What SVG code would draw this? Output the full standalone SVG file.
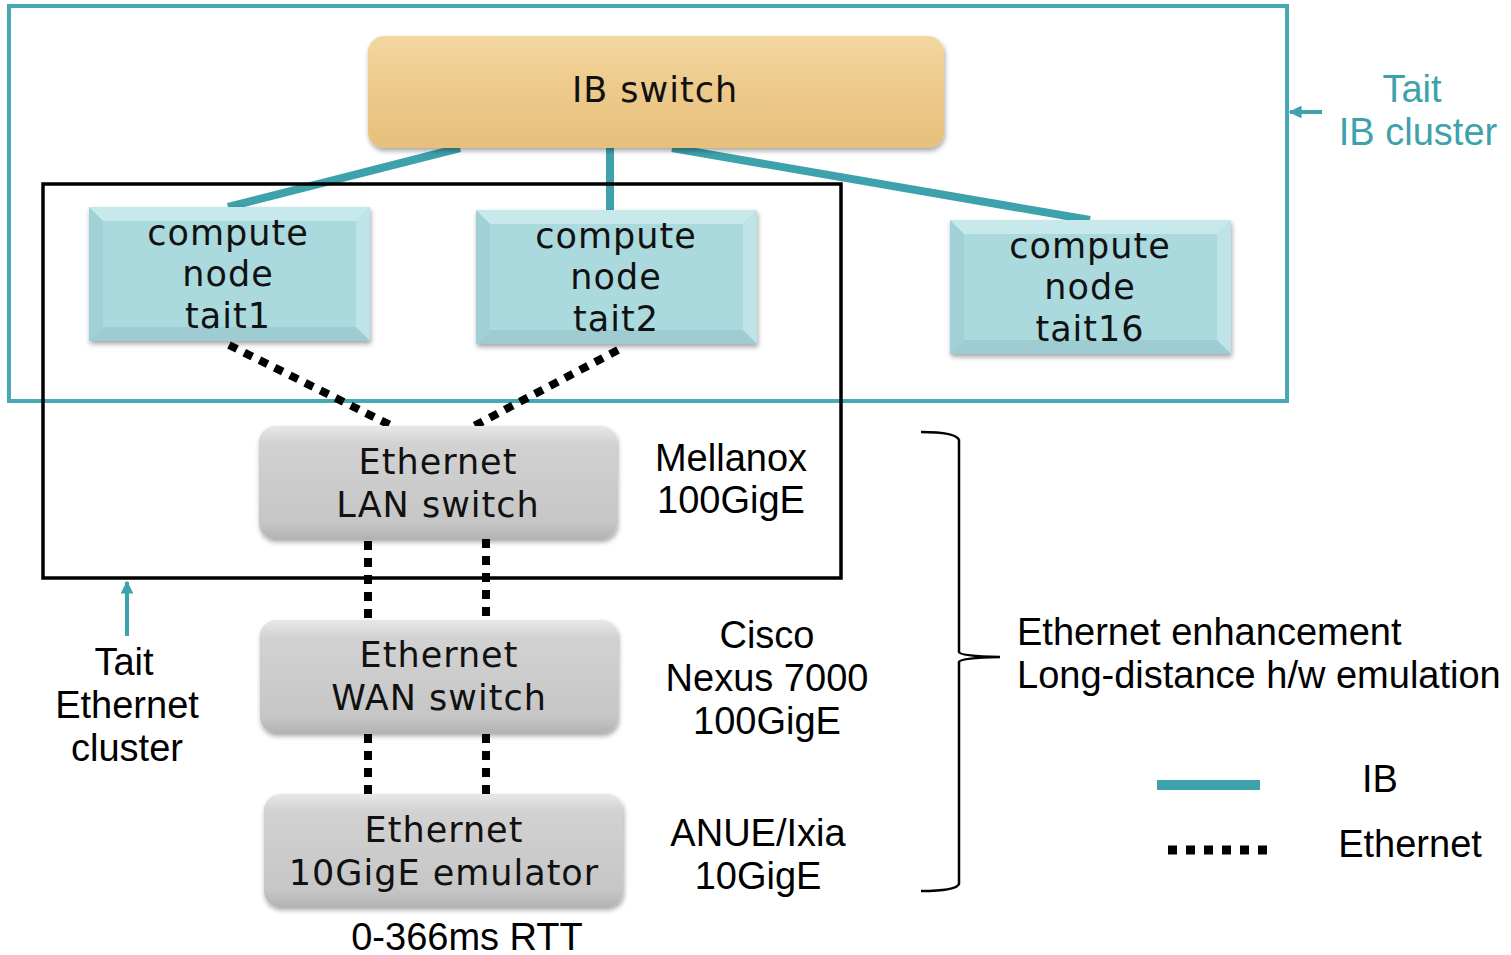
<svg xmlns="http://www.w3.org/2000/svg" width="1511" height="955" viewBox="0 0 1511 955">
<defs>
<linearGradient id="gold" x1="0" y1="0" x2="0" y2="1">
<stop offset="0" stop-color="#f2d79f"/><stop offset="0.5" stop-color="#edc98a"/><stop offset="1" stop-color="#e6c07c"/>
</linearGradient>
<linearGradient id="gray" x1="0" y1="0" x2="0" y2="1">
<stop offset="0" stop-color="#e8e8e8"/><stop offset="0.15" stop-color="#d2d2d2"/><stop offset="0.85" stop-color="#c6c6c6"/><stop offset="1" stop-color="#b3b3b3"/>
</linearGradient>
<filter id="sh" x="-10%" y="-10%" width="120%" height="130%">
<feDropShadow dx="1" dy="3" stdDeviation="2.5" flood-color="#000" flood-opacity="0.35"/>
</filter>
<marker id="ah" viewBox="0 0 10 10" refX="9" refY="5" markerWidth="3.2" markerHeight="3.2" orient="auto">
<path d="M0,0 L10,5 L0,10 z" fill="#3da2ac"/>
</marker>
<g id="bevel">
<rect x="0" y="0" width="281" height="134" fill="#aad9de"/>
<polygon points="0,0 281,0 267,14 14,14" fill="#c8e9ec"/>
<polygon points="0,0 14,14 14,120 0,134" fill="#a0d1d7"/>
<polygon points="281,0 281,134 267,120 267,14" fill="#bee4e8"/>
<polygon points="0,134 14,120 267,120 281,134" fill="#9dcdd3"/>
</g>
</defs>
<style>
.node{font-family:"DejaVu Sans",sans-serif;font-size:35px;fill:#111;text-anchor:middle;letter-spacing:1px}
.lbl{font-family:"Liberation Sans",Arial,sans-serif;font-size:38px;fill:#000;text-anchor:middle}
.st{text-anchor:start}
.tl{font-family:"Liberation Sans",Arial,sans-serif;font-size:38px;fill:#3da2ac;text-anchor:middle}
.ib{stroke:#3da2ac;stroke-width:8;fill:none}
.eth{stroke:#000;stroke-width:8;stroke-dasharray:9 8;fill:none}
</style>

<g id="ib-cluster-frame">
<rect x="9" y="6" width="1278" height="395" fill="none" stroke="#46a9b3" stroke-width="4"/>
</g>

<g id="connectors">
<line class="ib" x1="460" y1="148" x2="228" y2="207"/>
<line class="ib" x1="610" y1="148" x2="610" y2="211"/>
<line class="ib" x1="672" y1="148" x2="1090" y2="220"/>
<line class="eth" x1="229" y1="345" x2="392" y2="426"/>
<line class="eth" x1="618" y1="350" x2="474" y2="426"/>
<line class="eth" x1="368" y1="541" x2="368" y2="620"/>
<line class="eth" x1="486" y1="539" x2="486" y2="620"/>
<line class="eth" x1="368" y1="734" x2="368" y2="794"/>
<line class="eth" x1="486" y1="734" x2="486" y2="794"/>
</g>

<g id="eth-cluster-frame">
<rect x="43" y="184" width="798" height="394" fill="none" stroke="#000" stroke-width="3.5"/>
</g>

<g id="ib-switch">
<rect x="368" y="36" width="576" height="112" rx="16" fill="url(#gold)" filter="url(#sh)"/>
<text class="node" x="655" y="102">IB switch</text>
</g>

<g id="tait1">
<use href="#bevel" x="89" y="207" filter="url(#sh)"/>
<text class="node" x="228" y="245">compute</text>
<text class="node" x="228" y="286">node</text>
<text class="node" x="228" y="328">tait1</text>
</g>

<g id="tait2">
<use href="#bevel" x="476" y="210" filter="url(#sh)"/>
<text class="node" x="616" y="248">compute</text>
<text class="node" x="616" y="289">node</text>
<text class="node" x="616" y="331">tait2</text>
</g>

<g id="tait16">
<use href="#bevel" x="950" y="220" filter="url(#sh)"/>
<text class="node" x="1090" y="258">compute</text>
<text class="node" x="1090" y="299">node</text>
<text class="node" x="1090" y="341">tait16</text>
</g>

<g id="lan-switch">
<rect x="259" y="426" width="358" height="113" rx="16" fill="url(#gray)" filter="url(#sh)"/>
<text class="node" x="438" y="474">Ethernet</text>
<text class="node" x="438" y="517">LAN switch</text>
</g>

<g id="wan-switch">
<rect x="260" y="620" width="358" height="113" rx="16" fill="url(#gray)" filter="url(#sh)"/>
<text class="node" x="439" y="667">Ethernet</text>
<text class="node" x="439" y="710">WAN switch</text>
</g>

<g id="emulator">
<rect x="264" y="794" width="359" height="113" rx="16" fill="url(#gray)" filter="url(#sh)"/>
<text class="node" x="444" y="842">Ethernet</text>
<text class="node" x="444" y="885">10GigE emulator</text>
</g>

<g id="labels">
<text class="lbl" x="731" y="471">Mellanox</text>
<text class="lbl" x="731" y="513">100GigE</text>
<text class="lbl" x="767" y="648">Cisco</text>
<text class="lbl" x="767" y="691">Nexus 7000</text>
<text class="lbl" x="767" y="734">100GigE</text>
<text class="lbl" x="758" y="846">ANUE/Ixia</text>
<text class="lbl" x="758" y="889">10GigE</text>
<text class="lbl" x="467" y="950">0-366ms RTT</text>
<text class="lbl st" x="1017" y="645">Ethernet enhancement</text>
<text class="lbl st" x="1017" y="688">Long-distance h/w emulation</text>
<text class="lbl" x="124" y="675">Tait</text>
<text class="lbl" x="127" y="718">Ethernet</text>
<text class="lbl" x="127" y="761">cluster</text>
<text class="tl" x="1412" y="102">Tait</text>
<text class="tl" x="1418" y="145">IB cluster</text>
</g>

<g id="brace">
<path d="M921,432 Q956,432 959,440 L959,652 Q960,656 1000,657 Q960,658 959,662 L959,884 Q956,891 921,891" fill="none" stroke="#000" stroke-width="2.5"/>
</g>

<g id="arrows">
<line x1="1322" y1="112" x2="1290" y2="112" stroke="#3da2ac" stroke-width="4" marker-end="url(#ah)"/>
<line x1="127" y1="636" x2="127" y2="582" stroke="#3da2ac" stroke-width="4" marker-end="url(#ah)"/>
</g>

<g id="legend">
<line x1="1157" y1="785" x2="1260" y2="785" stroke="#3da2ac" stroke-width="10"/>
<text class="lbl" x="1380" y="792">IB</text>
<line x1="1168" y1="850" x2="1274" y2="850" stroke="#000" stroke-width="9" stroke-dasharray="9 9"/>
<text class="lbl" x="1410" y="857">Ethernet</text>
</g>
</svg>
